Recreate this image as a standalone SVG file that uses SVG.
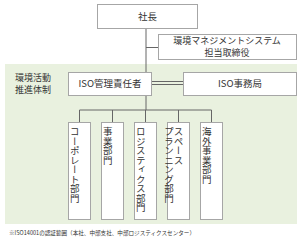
<svg xmlns="http://www.w3.org/2000/svg" width="300" height="240" viewBox="0 0 300 240">
<style>
.box{fill:#fff;stroke:#a6a6a6;stroke-width:1}
.ln{stroke:#666;stroke-width:1;fill:none}
.t{font-family:"Noto Sans CJK JP","Noto Sans",sans-serif;font-size:9.5px;fill:#333}
.c{text-anchor:middle}
.v{writing-mode:vertical-rl;text-orientation:mixed}
</style>
<rect x="5" y="64" width="292" height="160" fill="#e9f1df"/>
<g id="connectors">
<line class="ln" x1="146" y1="29" x2="146" y2="110"/>
<line class="ln" x1="146" y1="47.5" x2="158" y2="47.5"/>
<line class="ln" x1="152" y1="81.5" x2="183" y2="81.5"/>
<line class="ln" x1="152" y1="84.5" x2="183" y2="84.5"/>
<line class="ln" x1="79.5" y1="110" x2="211.5" y2="110"/>
<line class="ln" x1="79.5" y1="110" x2="79.5" y2="122"/>
<line class="ln" x1="112.5" y1="110" x2="112.5" y2="122"/>
<line class="ln" x1="145.5" y1="110" x2="145.5" y2="122"/>
<line class="ln" x1="178.5" y1="110" x2="178.5" y2="122"/>
<line class="ln" x1="211.5" y1="110" x2="211.5" y2="122"/>
</g>
<g id="president">
<rect class="box" x="97.5" y="4.5" width="100" height="24"/>
<text class="t c" x="147.5" y="20">社長</text>
</g>
<g id="director">
<rect class="box" x="158.5" y="34.5" width="138" height="25"/>
<text class="t c" x="227" y="44" style="font-size:9px">環境マネジメントシステム</text>
<text class="t c" x="227" y="56" style="font-size:9px">担当取締役</text>
</g>
<g id="label">
<text class="t" x="15" y="81" style="font-size:9px">環境活動</text>
<text class="t" x="15" y="93" style="font-size:9px">推進体制</text>
</g>
<g id="iso-manager">
<rect class="box" x="68.5" y="72.5" width="83" height="23"/>
<text class="t c" x="110" y="87">ISO管理責任者</text>
</g>
<g id="iso-office">
<rect class="box" x="183.5" y="72.5" width="113" height="23"/>
<text class="t c" x="240" y="87">ISO事務局</text>
</g>
<g id="corporate">
<rect class="box" x="68.5" y="122.5" width="22" height="97"/>
<text class="t v" x="74.8" y="127">コーポレート部門</text>
</g>
<g id="business">
<rect class="box" x="101.5" y="122.5" width="22" height="97"/>
<text class="t v" x="107.8" y="127">事業部門</text>
</g>
<g id="logistics">
<rect class="box" x="134.5" y="122.5" width="22" height="97"/>
<text class="t v" x="140.8" y="127">ロジスティクス部門</text>
</g>
<g id="space-planning">
<rect class="box" x="167.5" y="122.5" width="22" height="97"/>
<text class="t v" x="178.5" y="127">スペース</text>
<text class="t v" x="169" y="127">プランニング部門</text>
</g>
<g id="overseas">
<rect class="box" x="200.5" y="122.5" width="22" height="97"/>
<text class="t v" x="206.8" y="127">海外事業部門</text>
</g>
<text class="t" x="9" y="235" style="font-size:5.8px" textLength="186" lengthAdjust="spacingAndGlyphs">※ISO14001の認証範囲（本社、中部支社、中部ロジスティクスセンター）</text>
</svg>
